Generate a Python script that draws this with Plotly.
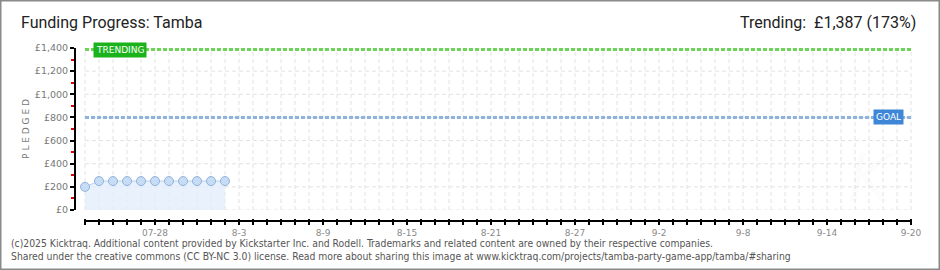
import pandas as pd
import plotly.graph_objects as go

# ---- data ----
dates = ["2025-07-23", "2025-07-24", "2025-07-25", "2025-07-26", "2025-07-27",
         "2025-07-28", "2025-07-29", "2025-07-30", "2025-07-31", "2025-08-01",
         "2025-08-02"]
pledged = [200, 250, 250, 250, 250, 250, 250, 250, 250, 250, 250]
goal = 800
trending = 1387
campaign_start = "2025-07-23"
campaign_end = "2025-09-20"
tick_dates = ["2025-07-28", "2025-08-03", "2025-08-09", "2025-08-15", "2025-08-21",
              "2025-08-27", "2025-09-02", "2025-09-08", "2025-09-14", "2025-09-20"]
tick_labels = ["07-28", "8-3", "8-9", "8-15", "8-21", "8-27", "9-2", "9-8", "9-14", "9-20"]
y_ticks = [0, 200, 400, 600, 800, 1000, 1200, 1400]
y_labels = ["£0", "£200", "£400", "£600", "£800", "£1,000", "£1,200", "£1,400"]

# ---- layout geometry ----
W, H = 940, 270
ML, MR, MT, MB = 76, 26, 48, 52
PW, PH = W - ML - MR, H - MT - MB
Y_OFF = 8  # gap between pledged=0 and the x axis

days = pd.date_range(campaign_start, campaign_end, freq="D")
start = pd.Timestamp(campaign_start)
x_lo = start - pd.Timedelta(hours=24 * 9 / 14)
x_hi = x_lo + pd.Timedelta(hours=24 * PW / 14)

lab_map = dict(zip(pd.to_datetime(tick_dates), tick_labels))
tickvals = list(days)
ticktext = [lab_map.get(d, "") for d in days]

fig = go.Figure()

# pledged series
fig.add_trace(go.Scatter(
    x=dates, y=pledged, mode="lines+markers",
    line=dict(color="#b9d2ef", width=1),
    marker=dict(size=9, color="#c7ddf6", line=dict(color="#8fb1dc", width=1)),
    fill="tozeroy", fillcolor="rgba(225,237,251,0.75)",
    hoverinfo="skip", showlegend=False,
))

# goal and trending lines
fig.add_trace(go.Scatter(
    x=[campaign_start, campaign_end], y=[goal, goal], mode="lines",
    line=dict(color="#8fb3e0", width=3, dash="4px,2px"),
    hoverinfo="skip", showlegend=False,
))
fig.add_trace(go.Scatter(
    x=[campaign_start, campaign_end], y=[trending, trending], mode="lines",
    line=dict(color="#6fd35a", width=3, dash="4px,2px"),
    hoverinfo="skip", showlegend=False,
))

shapes = []
grid = dict(color="#e2e2e2", width=1, dash="4px,3px")
# vertical grid, one per day
for d in days:
    shapes.append(dict(type="line", xref="x", yref="y", x0=d, x1=d, y0=0, y1=y_ticks[-1],
                       line=grid, layer="below"))
# horizontal grid
for v in y_ticks:
    shapes.append(dict(type="line", xref="x", yref="y", x0=days[0], x1=days[-1], y0=v, y1=v,
                       line=grid, layer="below"))
# x axis baseline
shapes.append(dict(type="line", xref="x", yref="paper", x0=days[0], x1=days[-1],
                   y0=-3 / PH, y1=-3 / PH, line=dict(color="#000", width=2)))
# outer frame
shapes.append(dict(type="rect", xref="paper", yref="paper",
                   x0=(0.75 - ML) / PW, x1=(W - 0.75 - ML) / PW,
                   y0=(-MB + 0.75) / PH, y1=(H - MB - 0.75) / PH,
                   line=dict(color="#8a8a8a", width=1.5), layer="above"))

footer_font = dict(family="DejaVu Sans Condensed, Liberation Sans Narrow, Arial Narrow, sans-serif",
                   size=10.3, color="#555")

annotations = [
    dict(text="Funding Progress: Tamba", xref="paper", yref="paper",
         x=(19 - ML) / PW, y=(H - MB - 22) / PH, xanchor="left", yanchor="middle",
         showarrow=False, font=dict(family="Roboto", size=16, color="#222")),
    dict(text=f"Trending:  £{trending:,} ({round(trending / goal * 100)}%)",
         xref="paper", yref="paper",
         x=(918 - ML) / PW, y=(H - MB - 22) / PH, xanchor="right", yanchor="middle",
         showarrow=False, font=dict(family="Roboto", size=16, color="#222")),
    dict(text="TRENDING", xref="x", yref="y", x=campaign_start, y=trending,
         xanchor="left", yanchor="middle", xshift=8, showarrow=False,
         bgcolor="#1bb31b", borderpad=2,
         font=dict(family="DejaVu Sans", size=9, color="white")),
    dict(text="GOAL", xref="x", yref="y", x=campaign_end, y=goal,
         xanchor="right", yanchor="middle", xshift=-7, showarrow=False,
         bgcolor="#3d87d6", borderpad=2,
         font=dict(family="DejaVu Sans", size=9, color="white")),
    dict(text="<i>K</i>", xref="paper", yref="paper", x=(872 - ML) / PW, y=(H - MB - 178) / PH,
         xanchor="center", yanchor="middle", showarrow=False,
         font=dict(family="DejaVu Sans", size=66, color="rgba(0,0,0,0.012)")),
    dict(text="(c)2025 Kicktraq. Additional content provided by Kickstarter Inc. and Rodell. "
              "Trademarks and related content are owned by their respective companies.",
         xref="paper", yref="paper", x=(9 - ML) / PW, y=(H - MB - 243) / PH,
         xanchor="left", yanchor="middle", showarrow=False, font=footer_font),
    dict(text="Shared under the creative commons (CC BY-NC 3.0) license. Read more about sharing "
              "this image at www.kicktraq.com/projects/tamba-party-game-app/tamba/#sharing",
         xref="paper", yref="paper", x=(9 - ML) / PW, y=(H - MB - 256) / PH,
         xanchor="left", yanchor="middle", showarrow=False, font=footer_font),
]

fig.update_layout(
    width=W, height=H,
    margin=dict(l=ML, r=MR, t=MT, b=MB, pad=0),
    paper_bgcolor="white", plot_bgcolor="white",
    shapes=shapes, annotations=annotations,
    xaxis=dict(
        type="date", range=[x_lo, x_hi], anchor="free", position=0,
        tickmode="array", tickvals=tickvals, ticktext=ticktext,
        ticks="outside", ticklen=6, tickwidth=1.5, tickcolor="#000",
        showgrid=False, showline=False, zeroline=False,
        tickfont=dict(family="DejaVu Sans", size=9, color="#8a8a8a"),
    ),
    yaxis=dict(
        domain=[Y_OFF / PH, 1], range=[0, y_ticks[-1]],
        tickmode="array", tickvals=y_ticks, ticktext=y_labels,
        ticks="outside", ticklen=4, tickwidth=1.5, tickcolor="#000",
        minor=dict(tickmode="linear", tick0=100, dtick=200, ticks="outside",
                   ticklen=3, tickcolor="#e00000", tickwidth=1.5, showgrid=False),
        showline=True, linecolor="#000", linewidth=2,
        showgrid=False, zeroline=False,
        tickfont=dict(family="DejaVu Sans", size=9.5, color="#777"),
        title=dict(text="P L E D G E D", standoff=4,
                   font=dict(family="DejaVu Sans", size=9, color="#777")),
    ),
)

fig.write_html("out.html")
